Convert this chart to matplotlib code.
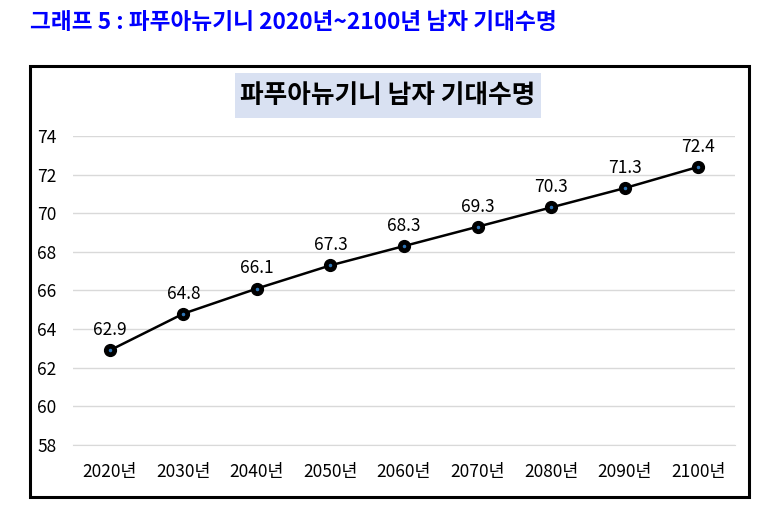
import matplotlib
matplotlib.use('Agg')
import matplotlib.pyplot as plt
from matplotlib.patches import Rectangle

plt.rcParams['font.family'] = ['Noto Sans CJK KR', 'DejaVu Sans']

years = ['2020년', '2030년', '2040년', '2050년', '2060년', '2070년', '2080년', '2090년', '2100년']
life = [62.9, 64.8, 66.1, 67.3, 68.3, 69.3, 70.3, 71.3, 72.4]
yticks = [58, 60, 62, 64, 66, 68, 70, 72, 74]

fig = plt.figure(figsize=(7.7, 5.2), dpi=100)

# 바깥 테두리
fig.patches.append(Rectangle((0.039, 0.044), 0.934, 0.829, transform=fig.transFigure,
                             fill=False, edgecolor='black', linewidth=2.2))

# 상단 제목
fig.text(0.039, 0.957, '그래프 5 : 파푸아뉴기니 2020년~2100년 남자 기대수명',
         color='#0000FF', fontsize=16.3, fontweight='bold', ha='left', va='center')

# 차트 제목 (배경 박스)
fig.patches.append(Rectangle((0.305, 0.773), 0.398, 0.087, transform=fig.transFigure,
                             facecolor='#D9E1F2', edgecolor='none'))
fig.text(0.504, 0.8165, '파푸아뉴기니 남자 기대수명', fontsize=18.5, fontweight='bold',
         ha='center', va='center')

ax = fig.add_axes([0.0948, 0.1442, 0.8597, 0.5943])
x = range(len(years))
ax.plot(x, life, color='black', linewidth=1.8, marker='o', markersize=8.5,
        markerfacecolor='black', markeredgecolor='black', zorder=3)
ax.plot(x, life, linestyle='none', marker='o', markersize=1.5,
        color='#2E75B6', zorder=4)
for i, v in enumerate(life):
    ax.annotate(f'{v}', (i, v), xytext=(0, 8), textcoords='offset points',
                ha='center', va='bottom', fontsize=12.5)

ax.set_xlim(-0.5, len(years) - 0.5)
ax.set_ylim(58, 74)
ax.set_yticks(yticks)
ax.set_xticks(list(x))
ax.set_xticklabels(years)
ax.grid(axis='y', color='#D9D9D9', linewidth=1)
ax.set_axisbelow(True)
for s in ['top', 'right', 'left']:
    ax.spines[s].set_visible(False)
ax.spines['bottom'].set_color('#D9D9D9')
ax.tick_params(axis='both', length=0, labelsize=12.5)
ax.tick_params(axis='x', pad=13)
ax.tick_params(axis='y', pad=12)

fig.savefig('out.png', dpi=100)
